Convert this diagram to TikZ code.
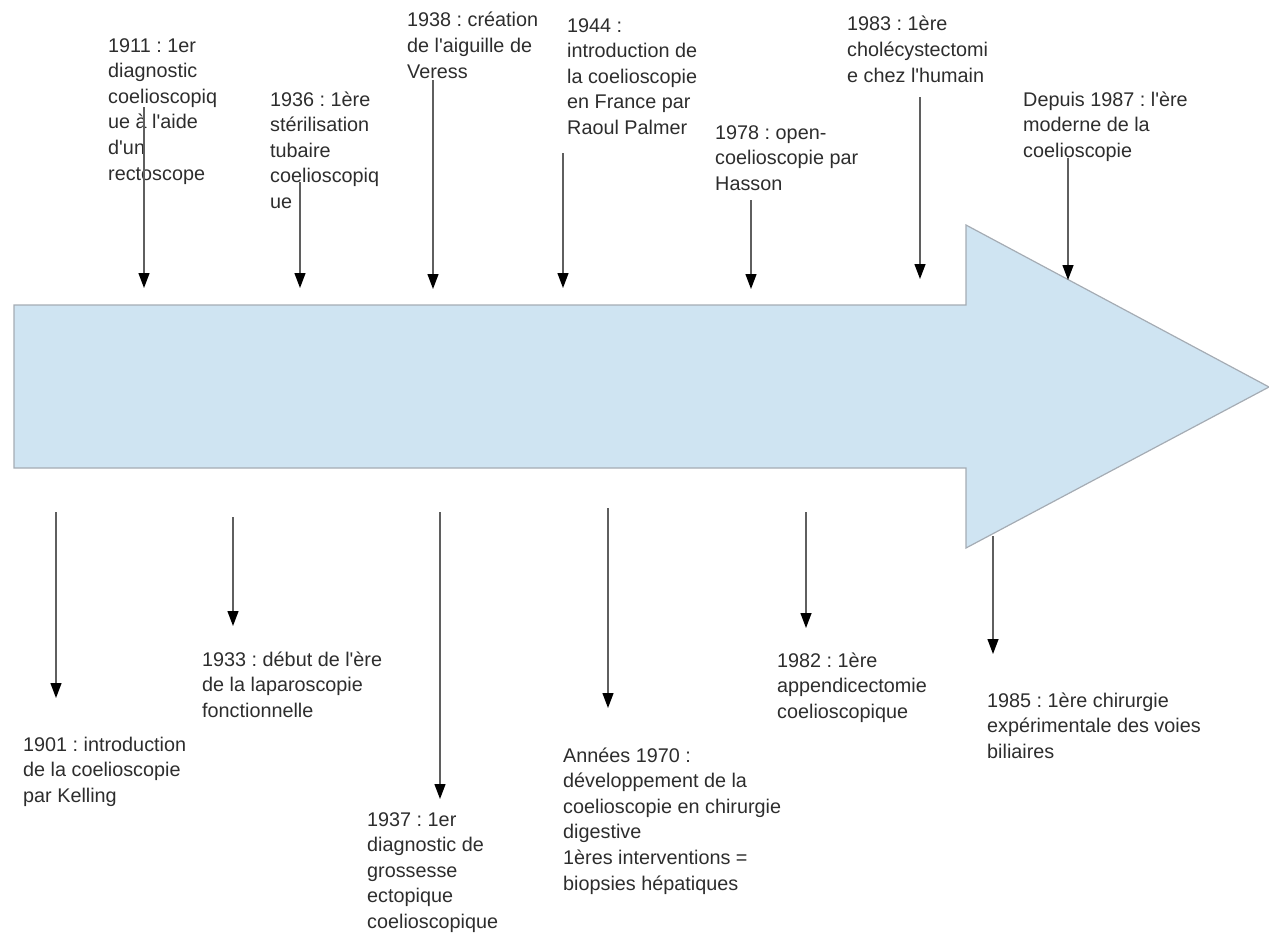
\documentclass[tikz,border=0pt]{standalone}
\usepackage{fontspec}
\setmainfont{Liberation Sans}[Ligatures=TeXOff]
\usetikzlibrary{arrows.meta}
\definecolor{arrowfill}{RGB}{207,228,242}
\definecolor{arrowline}{RGB}{165,172,180}
\definecolor{txt}{RGB}{45,45,45}
\definecolor{connc}{RGB}{95,95,95}
\begin{document}
\frenchspacing
\begin{tikzpicture}[x=1pt,y=-1pt,
  lbl/.style={anchor=base west, inner sep=0pt, align=left, text=txt, font=\fontsize{19.8}{25.6}\selectfont\frenchspacing},
  conn/.style={draw=connc, line width=1.3pt, -{Triangle[length=15pt,width=11pt,color=black]}},
  bigarrow/.style={fill=arrowfill, draw=arrowline, line width=1.2pt, line join=miter}]
\useasboundingbox (0,0) rectangle (1269,934);

% main arrow
\draw[bigarrow] (14,305) -- (966,305) -- (966,225) -- (1269,387) -- (966,548) -- (966,468) -- (14,468) -- cycle;

% top labels (anchored at the baseline of the last line)
\node[lbl] (t1911) at (108,180) {1911 : 1er\\diagnostic\\coelioscopiq\\ue à l'aide\\d'un\\rectoscope};
\node[lbl] (t1936) at (270,208.4) {1936 : 1ère\\stérilisation\\tubaire\\coelioscopiq\\ue};
\node[lbl] (t1938) at (407,78.2) {1938 : création\\de l'aiguille de\\Veress};
\node[lbl] (t1944) at (567,134.4) {1944 :\\introduction de\\la coelioscopie\\en France par\\Raoul Palmer};
\node[lbl] (t1978) at (715,190.2) {1978 : open-\\coelioscopie par\\Hasson};
\node[lbl] (t1983) at (847,82.2) {1983 : 1ère\\cholécystectomi\\e chez l'humain};
\node[lbl] (t1987) at (1023,157.2) {Depuis 1987 : l'ère\\moderne de la\\coelioscopie};

% bottom labels
\node[lbl] (b1901) at (23,802.2) {1901 : introduction\\de la coelioscopie\\par Kelling};
\node[lbl] (b1933) at (202,717.2) {1933 : début de l'ère\\de la laparoscopie\\fonctionnelle};
\node[lbl] (b1937) at (367,928.4) {1937 : 1er\\diagnostic de\\grossesse\\ectopique\\coelioscopique};
\node[lbl] (b1970) at (563,890) {Années 1970 :\\développement de la\\coelioscopie en chirurgie\\digestive\\1ères interventions =\\biopsies hépatiques};
\node[lbl] (b1982) at (777,718.2) {1982 : 1ère\\appendicectomie\\coelioscopique};
\node[lbl] (b1985) at (987,758.2) {1985 : 1ère chirurgie\\expérimentale des voies\\biliaires};

% connector end points
\coordinate (s1911) at (144,107);  \coordinate (e1911) at (144,288);
\coordinate (s1936) at (300,182);  \coordinate (e1936) at (300,288);
\coordinate (s1938) at (433,80);   \coordinate (e1938) at (433,289);
\coordinate (s1944) at (563,153);  \coordinate (e1944) at (563,288);
\coordinate (s1978) at (751,200);  \coordinate (e1978) at (751,289);
\coordinate (s1983) at (920,97);   \coordinate (e1983) at (920,279);
\coordinate (s1987) at (1068,158); \coordinate (e1987) at (1068,280);

\coordinate (s1901) at (56,512);   \coordinate (e1901) at (56,698);
\coordinate (s1933) at (233,517);  \coordinate (e1933) at (233,626);
\coordinate (s1937) at (440,512);  \coordinate (e1937) at (440,799);
\coordinate (s1970) at (608,508);  \coordinate (e1970) at (608,708);
\coordinate (s1982) at (806,512);  \coordinate (e1982) at (806,628);
\coordinate (s1985) at (993,536);  \coordinate (e1985) at (993,654);

\foreach \y in {1911,1936,1938,1944,1978,1983,1987,1901,1933,1937,1970,1982,1985}
  \draw[conn] (s\y) -- (e\y);
\end{tikzpicture}
\end{document}
